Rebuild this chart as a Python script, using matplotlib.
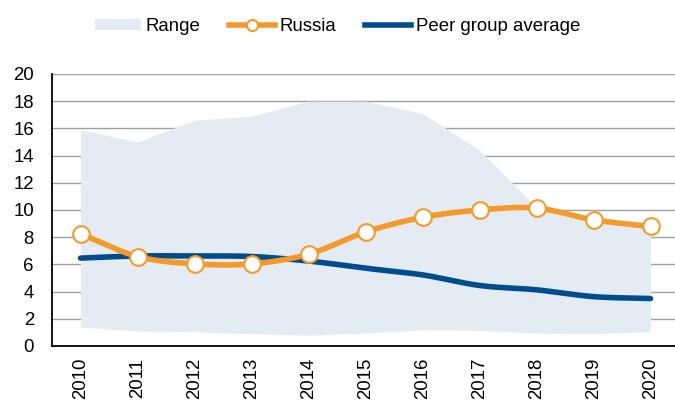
import matplotlib
matplotlib.use("Agg")
import matplotlib.pyplot as plt
from matplotlib.patches import Patch
from matplotlib.lines import Line2D
import numpy as np

plt.rcParams['font.family'] = ['Liberation Sans', 'DejaVu Sans']

years = ["2010", "2011", "2012", "2013", "2014", "2015", "2016", "2017", "2018", "2019", "2020"]
range_low = [1.4, 1.1, 1.05, 0.9, 0.8, 0.95, 1.2, 1.15, 0.95, 0.9, 1.05]
range_high = [15.9, 15.0, 16.6, 16.9, 18.0, 18.0, 17.1, 14.4, 10.2, 9.3, 8.8]
russia = [8.25, 6.58, 6.04, 6.04, 6.75, 8.38, 9.46, 10.0, 10.14, 9.28, 8.79]
peer_avg = [6.46, 6.62, 6.62, 6.58, 6.25, 5.72, 5.23, 4.45, 4.13, 3.63, 3.49]

ORANGE = "#F39A2B"
BLUE = "#004C8C"
FILL = "#E4EBF3"


def smooth(x, y, n=20):
    # Catmull-Rom style curve, like the smoothed lines in spreadsheet charts
    x = np.asarray(x, float)
    y = np.asarray(y, float)
    px = np.concatenate([[2 * x[0] - x[1]], x, [2 * x[-1] - x[-2]]])
    py = np.concatenate([[2 * y[0] - y[1]], y, [2 * y[-1] - y[-2]]])
    xs, ys = [], []
    for i in range(1, len(px) - 2):
        t = np.linspace(0, 1, n, endpoint=False)
        for arr, out in ((px, xs), (py, ys)):
            p0, p1, p2, p3 = arr[i - 1], arr[i], arr[i + 1], arr[i + 2]
            out.extend(0.5 * ((2 * p1) + (-p0 + p2) * t
                              + (2 * p0 - 5 * p1 + 4 * p2 - p3) * t ** 2
                              + (-p0 + 3 * p1 - 3 * p2 + p3) * t ** 3))
    xs.append(x[-1])
    ys.append(y[-1])
    return np.array(xs), np.array(ys)


fig = plt.figure(figsize=(6.75, 4.04), dpi=100)
ax = fig.add_axes([52 / 675, 1 - 346 / 404, (679 - 52) / 675, (346 - 74) / 404])

x = np.arange(len(years))
ax.fill_between(x, range_low, range_high, color=FILL, lw=0, zorder=1)

for v in range(2, 21, 2):
    ax.axhline(v, color="#A0A0A0", lw=1, zorder=0.5)

bx, by = smooth(x, peer_avg)
ax.plot(bx, by, color=BLUE, lw=4, solid_capstyle="round", zorder=3)
rx, ry = smooth(x, russia)
ax.plot(rx, ry, color=ORANGE, lw=4, solid_capstyle="round", zorder=4)
ax.plot(x, russia, "o", ms=12, mfc="white", mec=ORANGE, mew=1.5, zorder=5)

ax.set_xlim(-0.5, 10.5)
ax.set_ylim(0, 20)
ax.set_yticks(range(0, 21, 2))
ax.set_xticks(x)
ax.set_xticklabels(years, rotation=90)
ax.tick_params(axis="both", length=0, labelsize=13.4, colors="black")
ax.tick_params(axis="x", pad=8.5)
ax.tick_params(axis="y", pad=13)
for s in ["top", "right"]:
    ax.spines[s].set_visible(False)
ax.spines["left"].set_linewidth(1.3)
ax.spines["bottom"].set_linewidth(1.3)

handles = [
    Patch(facecolor=FILL, edgecolor="none"),
    Line2D([0], [0], color=ORANGE, lw=4, marker="o", ms=8, mfc="white", mec=ORANGE, mew=1.5),
    Line2D([0], [0], color=BLUE, lw=4),
]
fig.legend(handles, ["Range", "Russia", "Peer group average"], loc="center",
           bbox_to_anchor=(0.5, 0.935), ncol=3, frameon=False, fontsize=13.4,
           handlelength=2.5, handleheight=0.55, handletextpad=0.25, columnspacing=1.5)

fig.savefig("out.png", dpi=100)
